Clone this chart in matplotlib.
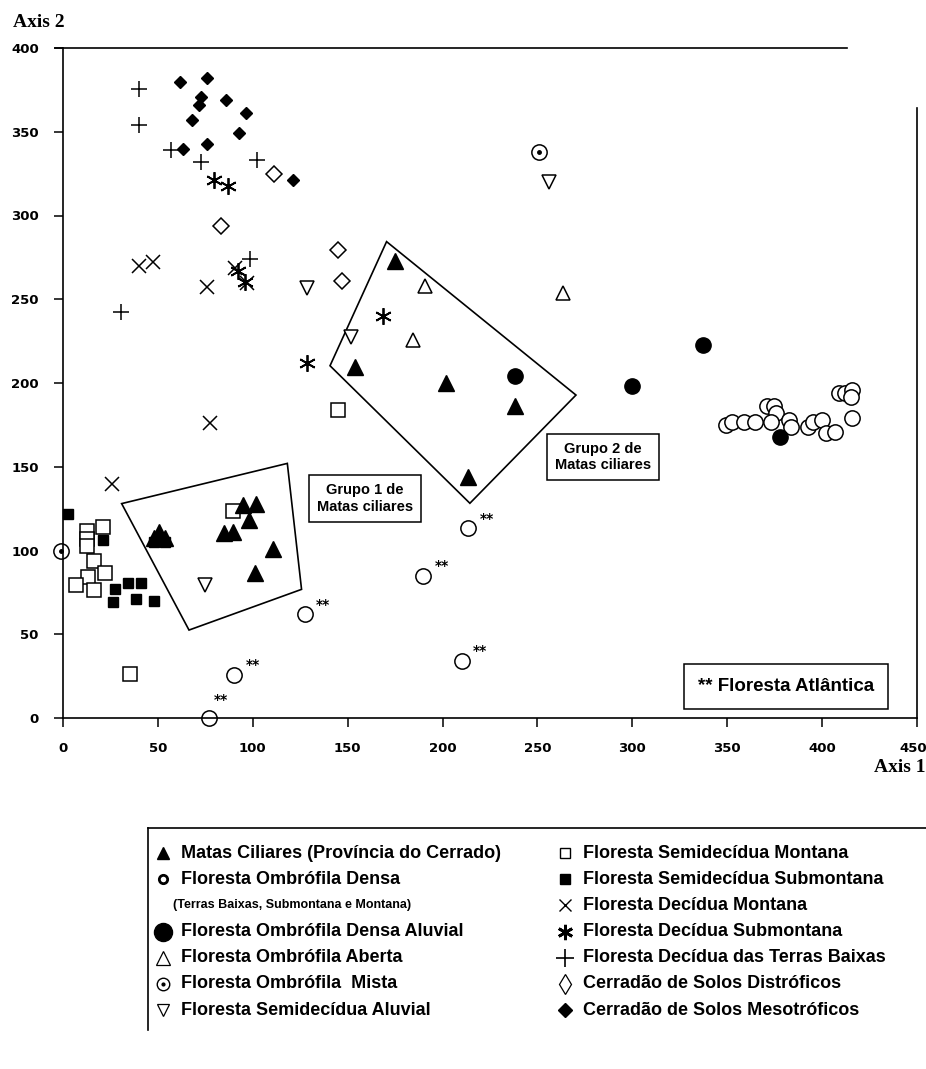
import matplotlib
matplotlib.use("Agg")
import matplotlib.pyplot as plt
import matplotlib.transforms as mtransforms
from matplotlib.patches import Polygon

matas_x = [48, 50.7, 53.7, 95, 101.7, 98, 84.8, 89.4, 110.8, 101, 175, 153.8, 202, 238, 213.5]
matas_y = [107.5, 111, 107.5, 127, 128, 118, 110.6, 111.2, 101, 86.4, 272.8, 209.7, 200, 186, 144]

densa_x = [349.3, 352.3, 358.8, 364.6, 370.7, 374.6, 375.7, 373, 382.7, 383.4,
           392.6, 395.3, 399.7, 402.3, 407, 409, 412, 415.5, 415, 416]
densa_y = [175, 177, 177, 177, 186, 186.3, 182.3, 177, 178, 173.5,
           173.5, 177, 178, 170, 171, 193.8, 193.8, 196, 191.8, 179]

atlantica_x = [213.5, 189.8, 127.5, 210, 90.3, 77]
atlantica_y = [113.2, 84.8, 61.9, 34, 25.7, 0]

aluvial_x = [337.4, 300, 238, 377.8]
aluvial_y = [222.7, 198.2, 204, 168]

aberta_x = [191, 184.6, 263.6]
aberta_y = [258, 225.7, 253.5]

mista_x = [250.8, -1]
mista_y = [338, 100]

semi_aluvial_x = [256, 128.4, 152, 75]
semi_aluvial_y = [320, 256.5, 227.6, 79.4]

semi_montana_x = [12.8, 20.9, 12.8, 12.8, 16.5, 22.1, 13.3, 6.8, 16.5, 35.3, 145, 89.4]
semi_montana_y = [111.8, 113.8, 106.6, 102.7, 93.9, 86.4, 84.4, 79.4, 76.4, 26, 183.9, 123.8]

semi_submontana_x = [2.5, 20.9, 27.4, 26.5, 34.4, 41, 38.5, 48, 48, 54]
semi_submontana_y = [121.8, 106.3, 77, 69, 80.8, 80.8, 70.8, 70, 105, 105]

dec_montana_x = [40.2, 47.6, 76, 25.6, 77.4, 90.5, 97]
dec_montana_y = [270, 272.4, 257.5, 140, 176, 268.5, 259.5]

dec_submontana_x = [79.7, 86.8, 92, 96, 168.6, 128.4]
dec_submontana_y = [321, 317.6, 267, 260.5, 240, 211.7]

dec_baixas_x = [40, 40, 57, 72.7, 102, 98.5, 30.4]
dec_baixas_y = [375.5, 354, 339, 332, 333, 274, 242.6]

distroficos_x = [111, 83, 145, 147]
distroficos_y = [324.8, 294, 279.4, 261]

mesotroficos_x = [61.6, 76, 72.7, 71.7, 68, 86, 96.4, 92.6, 76, 63, 121]
mesotroficos_y = [379.7, 382, 371, 366, 357, 369, 361, 349, 342.5, 339.5, 321]

grupo1 = [(30.9, 128), (118.2, 152), (125.7, 76.8), (66.4, 52.5)]
grupo2 = [(170.5, 284.4), (270.3, 192.8), (214.4, 128.2), (140.7, 210.3)]

x_ticks = [0, 50, 100, 150, 200, 250, 300, 350, 400, 450]
y_ticks = [0, 50, 100, 150, 200, 250, 300, 350, 400]

# ── Figure ───────────────────────────────────────────────────────────────────
W, H = 926, 1069
fig = plt.figure(figsize=(W / 100, H / 100), dpi=100)
ax = fig.add_axes([63 / W, 1 - 718 / H, 854 / W, 670 / H])
ax.set_xlim(0, 450)
ax.set_ylim(0, 400)

ax.spines["top"].set_visible(False)
ax.spines["right"].set_visible(False)
for s in ("left", "bottom"):
    ax.spines[s].set_linewidth(1.2)
ax.plot([-4, 413], [400, 400], color="black", lw=1.2, clip_on=False)
ax.plot([450, 450], [0, 364], color="black", lw=1.2, clip_on=False)

ax.set_xticks(x_ticks)
ax.set_yticks(y_ticks)
ax.tick_params(direction="out", length=6.5, width=1.1, pad=11, labelsize=9.5)
for lab in ax.get_xticklabels() + ax.get_yticklabels():
    lab.set_fontweight("bold")
# last x label sits against the page edge
last = ax.get_xticklabels()[-1]
last.set_horizontalalignment("right")
last.set_transform(last.get_transform() + mtransforms.ScaledTranslation(10 / 100, 0, fig.dpi_scale_trans))

OPEN = dict(linestyle="none", clip_on=False, markerfacecolor="white", markeredgecolor="black")
FILL = dict(linestyle="none", clip_on=False, color="black")

ax.plot(densa_x, densa_y, "o", ms=11, mew=1.1, **OPEN)
ax.plot(atlantica_x, atlantica_y, "o", ms=11, mew=1.1, **OPEN)
for xi, yi in zip(atlantica_x, atlantica_y):
    off = (3, 10) if yi < 5 else (8, 4)
    ax.annotate("**", (xi, yi), textcoords="offset points", xytext=off,
                fontsize=10, fontweight="bold", annotation_clip=False)
ax.plot(aluvial_x, aluvial_y, "o", ms=11, **FILL)
ax.plot(aberta_x, aberta_y, "^", ms=10, mew=1.1, **OPEN)
ax.plot(mista_x, mista_y, "o", ms=11, mew=1.1, **OPEN)
ax.plot(mista_x, mista_y, ".", ms=5, **FILL)
ax.plot(semi_aluvial_x, semi_aluvial_y, "v", ms=10, mew=1.1, **OPEN)
ax.plot(semi_montana_x, semi_montana_y, "s", ms=10, mew=1.1, **OPEN)
ax.plot(semi_submontana_x, semi_submontana_y, "s", ms=7, **FILL)
ax.plot(matas_x, matas_y, "^", ms=11, **FILL)
ax.plot(dec_montana_x, dec_montana_y, "x", ms=10, mew=1.1, **FILL)
ax.plot(dec_submontana_x, dec_submontana_y, marker=(6, 2, 0), ms=12, mew=1.3, **FILL)
ax.plot(dec_baixas_x, dec_baixas_y, "+", ms=12, mew=1.1, **FILL)
ax.plot(distroficos_x, distroficos_y, "D", ms=8, mew=1.1, **OPEN)
ax.plot(mesotroficos_x, mesotroficos_y, "D", ms=6.5, **FILL)

for poly in (grupo1, grupo2):
    ax.add_patch(Polygon(poly, closed=True, fill=False, edgecolor="black", lw=1.2))

box = dict(boxstyle="square,pad=0.55", fc="white", ec="black", lw=1.1)
ax.text(159, 131, "Grupo 1 de\nMatas ciliares", ha="center", va="center",
        fontsize=10.5, fontweight="bold", family="Liberation Sans", bbox=box, linespacing=1.2)
ax.text(284.6, 156, "Grupo 2 de\nMatas ciliares", ha="center", va="center",
        fontsize=10.5, fontweight="bold", family="Liberation Sans", bbox=box, linespacing=1.2)
ax.text(381, 19, "** Floresta Atlântica", ha="center", va="center",
        fontsize=13.5, fontweight="bold", family="Liberation Sans",
        bbox=dict(boxstyle="square,pad=0.75", fc="white", ec="black", lw=1.1))

fig.text(13 / W, 1 - 27 / H, "Axis 2", family="Liberation Serif", fontweight="bold",
         fontsize=14, ha="left", va="baseline")
fig.text(925 / W, 1 - 772 / H, "Axis 1", family="Liberation Serif", fontweight="bold",
         fontsize=14, ha="right", va="baseline")

# ── Legend (drawn in pixel space) ────────────────────────────────────────────
lax = fig.add_axes([0, 0, 1, 1])
lax.set_xlim(0, W)
lax.set_ylim(H, 0)
lax.axis("off")
lax.plot([148, W], [828, 828], color="black", lw=1.2)
lax.plot([148, 148], [828, 1030], color="black", lw=1.2)

left = [
    ("Matas Ciliares (Província do Cerrado)", dict(marker="^", ms=9, color="black")),
    ("Floresta Ombrófila Densa", dict(marker="o", ms=6, mew=2, mfc="white", mec="black")),
    ("(Terras Baixas, Submontana e Montana)", None),
    ("Floresta Ombrófila Densa Aluvial", dict(marker="o", ms=13, color="black")),
    ("Floresta Ombrófila Aberta", dict(marker="^", ms=10, mew=0.9, mfc="white", mec="black")),
    ("Floresta Ombrófila  Mista", dict(marker="o", ms=9, mew=1, mfc="white", mec="black")),
    ("Floresta Semidecídua Aluvial", dict(marker="v", ms=9, mew=0.9, mfc="white", mec="black")),
]
right = [
    ("Floresta Semidecídua Montana", dict(marker="s", ms=7, mew=1, mfc="white", mec="black")),
    ("Floresta Semidecídua Submontana", dict(marker="s", ms=7, color="black")),
    ("Floresta Decídua Montana", dict(marker="x", ms=9, mew=1, color="black")),
    ("Floresta Decídua Submontana", dict(marker=(6, 2, 0), ms=11, mew=2, color="black")),
    ("Floresta Decídua das Terras Baixas", dict(marker="+", ms=13, mew=1.2, color="black")),
    ("Cerradão de Solos Distróficos", dict(marker="d", ms=10, mew=0.9, mfc="white", mec="black")),
    ("Cerradão de Solos Mesotróficos", dict(marker="D", ms=7, color="black")),
]

row0, step = 853, 26.2
for col, (mx, tx) in zip((left, right), ((163, 181), (565, 583))):
    for i, (label, style) in enumerate(col):
        y = row0 + i * step
        if style is not None:
            lax.plot([mx], [y], linestyle="none", **style)
            if label.endswith("Mista"):
                lax.plot([mx], [y], ".", ms=4, color="black")
        small = style is None
        lax.text(tx - (8 if small else 0), y, label, va="center", ha="left",
                 fontsize=9 if small else 13, fontweight="bold", family="Liberation Sans")

fig.savefig("out.png", dpi=100)
